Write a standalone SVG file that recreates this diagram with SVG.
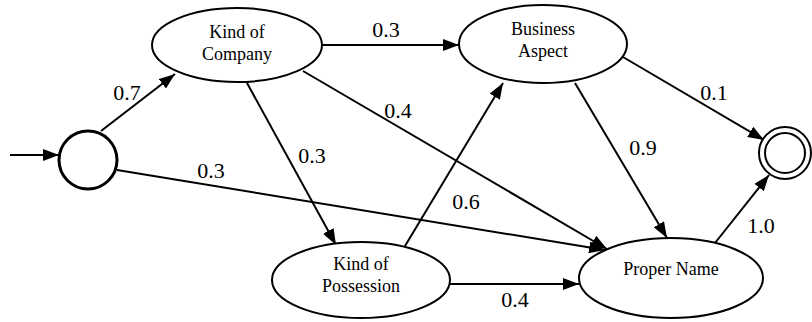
<svg xmlns="http://www.w3.org/2000/svg" width="812" height="322" viewBox="0 0 812 322">
<style>
.node{fill:#fff;stroke:#000;stroke-width:2}
.nt{font-family:'Liberation Serif','DejaVu Serif','Times New Roman',serif;font-size:18px;text-anchor:middle;fill:#000}
.el{font-family:'Liberation Serif','DejaVu Serif','Times New Roman',serif;font-size:22px;text-anchor:middle;fill:#000}
.edge{stroke:#000;stroke-width:2;fill:none;marker-end:url(#arr)}
</style>
<defs>
<marker id="arr" markerUnits="userSpaceOnUse" markerWidth="16" markerHeight="12" viewBox="0 0 16 12" refX="16" refY="6" orient="auto">
<path d="M0,0 L16,6 L0,12 Z" fill="#000"/>
</marker>
</defs>
<rect width="812" height="322" fill="#fff"/>
<g id="connectors">
<line class="edge" x1="10" y1="155" x2="59" y2="155"/>
<line class="edge" x1="101" y1="131" x2="175" y2="74"/>
<line class="edge" x1="322" y1="45" x2="459" y2="45"/>
<line class="edge" x1="303" y1="71" x2="607" y2="249"/>
<line class="edge" x1="247" y1="83" x2="336" y2="245"/>
<line class="edge" x1="117" y1="170" x2="605" y2="250"/>
<line class="edge" x1="405" y1="246" x2="503" y2="83"/>
<line class="edge" x1="575" y1="83" x2="667" y2="238"/>
<line class="edge" x1="623" y1="57" x2="764" y2="140"/>
<line class="edge" x1="715" y1="243" x2="769" y2="175"/>
<line class="edge" x1="450" y1="284" x2="579" y2="284"/>
<text class="el" x="127" y="100" font-family="Liberation Serif, serif">0.7</text>
<text class="el" x="386" y="37">0.3</text>
<text class="el" x="398" y="118">0.4</text>
<text class="el" x="312" y="163">0.3</text>
<text class="el" x="211" y="178">0.3</text>
<text class="el" x="466" y="209">0.6</text>
<text class="el" x="643" y="155">0.9</text>
<text class="el" x="714" y="100">0.1</text>
<text class="el" x="761" y="233">1.0</text>
<text class="el" x="515" y="307">0.4</text>
</g>
<g id="start">
<circle cx="88" cy="160" r="29" fill="#fff" stroke="#000" stroke-width="3"/>
</g>
<g id="kind-of-company">
<ellipse class="node" cx="237" cy="45" rx="85" ry="37"/>
<text class="nt" x="237" y="38">Kind of</text>
<text class="nt" x="237" y="60">Company</text>
</g>
<g id="business-aspect">
<ellipse class="node" cx="543" cy="44" rx="84" ry="39"/>
<text class="nt" x="543" y="35">Business</text>
<text class="nt" x="543" y="57">Aspect</text>
</g>
<g id="kind-of-possession">
<ellipse class="node" cx="361" cy="280" rx="89" ry="38"/>
<text class="nt" x="361" y="270">Kind of</text>
<text class="nt" x="361" y="292">Possession</text>
</g>
<g id="proper-name">
<ellipse class="node" cx="671" cy="278" rx="92" ry="40"/>
<text class="nt" x="671" y="275">Proper Name</text>
</g>
<g id="final">
<circle cx="785" cy="153" r="26" fill="#fff" stroke="#000" stroke-width="2"/>
<circle cx="785" cy="153" r="20" fill="none" stroke="#000" stroke-width="2"/>
</g>
</svg>
